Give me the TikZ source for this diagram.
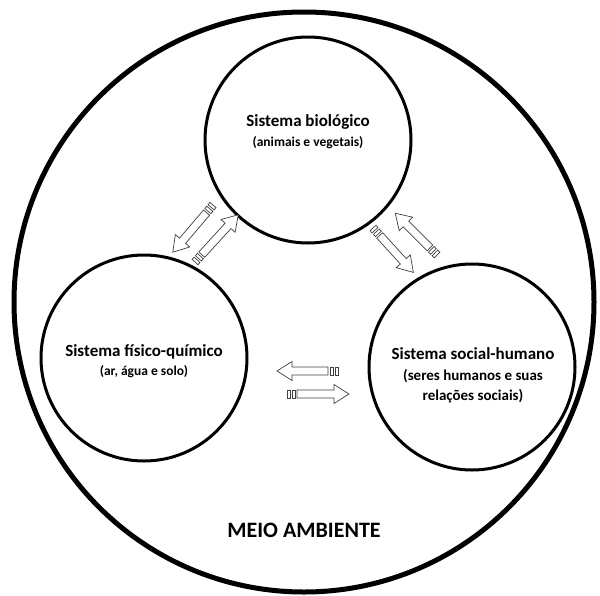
\documentclass[tikz,border=0pt]{standalone}
\usepackage{fontspec}
\setmainfont{Carlito}
\begin{document}
\begin{tikzpicture}[x=1pt,y=-1pt,
  outer/.style={draw=black,line width=5pt},
  sys/.style={draw=black,line width=3pt,circle,minimum size=206pt,inner sep=0pt},
  ttl/.style={font=\bfseries\fontsize{17}{19}\selectfont,align=center},
  sub/.style={font=\bfseries\fontsize{13.5}{20}\selectfont,align=center},
  subr/.style={font=\bfseries\fontsize{15}{20}\selectfont,align=center},
  arr/.style={draw=black!75,line width=0.7pt,fill=white,line join=miter}]
\useasboundingbox (0,0) rectangle (600,595);
\newcommand\sarrow[4]{%
 \begin{scope}[shift={(#1,#2)},rotate=#3]
  \draw[arr] (0,-4) rectangle (3,4);
  \draw[arr] (5,-4) rectangle (8,4);
  \draw[arr] (10,-4) -- ({#4-15},-4) -- ({#4-15},-9.5) -- (#4,0) -- ({#4-15},9.5) -- ({#4-15},4) -- (10,4) -- cycle;
 \end{scope}}
\node[outer,circle,minimum size=580pt,inner sep=0pt] (env) at (304,302) {};
\node[sys] (bio) at (308,140) {};
\node[sys] (fq) at (144,358) {};
\node[sys] (sh) at (472,367) {};
\node[ttl] (biot) at (308,122) {Sistema biológico};
\node[sub] (bios) at (308,143) {(animais e vegetais)};
\node[ttl] (fqt) at (144,352) {Sistema físico-químico};
\node[sub] (fqs) at (144,372) {(ar, água e solo)};
\node[ttl] (sht) at (473,354) {Sistema social-humano};
\node[subr] (shs) at (473,386) {(seres humanos e suas\\relações sociais)};
\node[font=\bfseries\fontsize{22}{24}\selectfont] (meio) at (304,530) {MEIO AMBIENTE};
% arrows
\sarrow{213}{205}{229.6}{62}
\sarrow{195}{262}{47.5}{64}
\sarrow{437}{255}{135}{59}
\sarrow{373}{228}{-47.7}{60}
\sarrow{338}{371}{180}{61}
\sarrow{287}{394}{0}{62}
\end{tikzpicture}
\end{document}
